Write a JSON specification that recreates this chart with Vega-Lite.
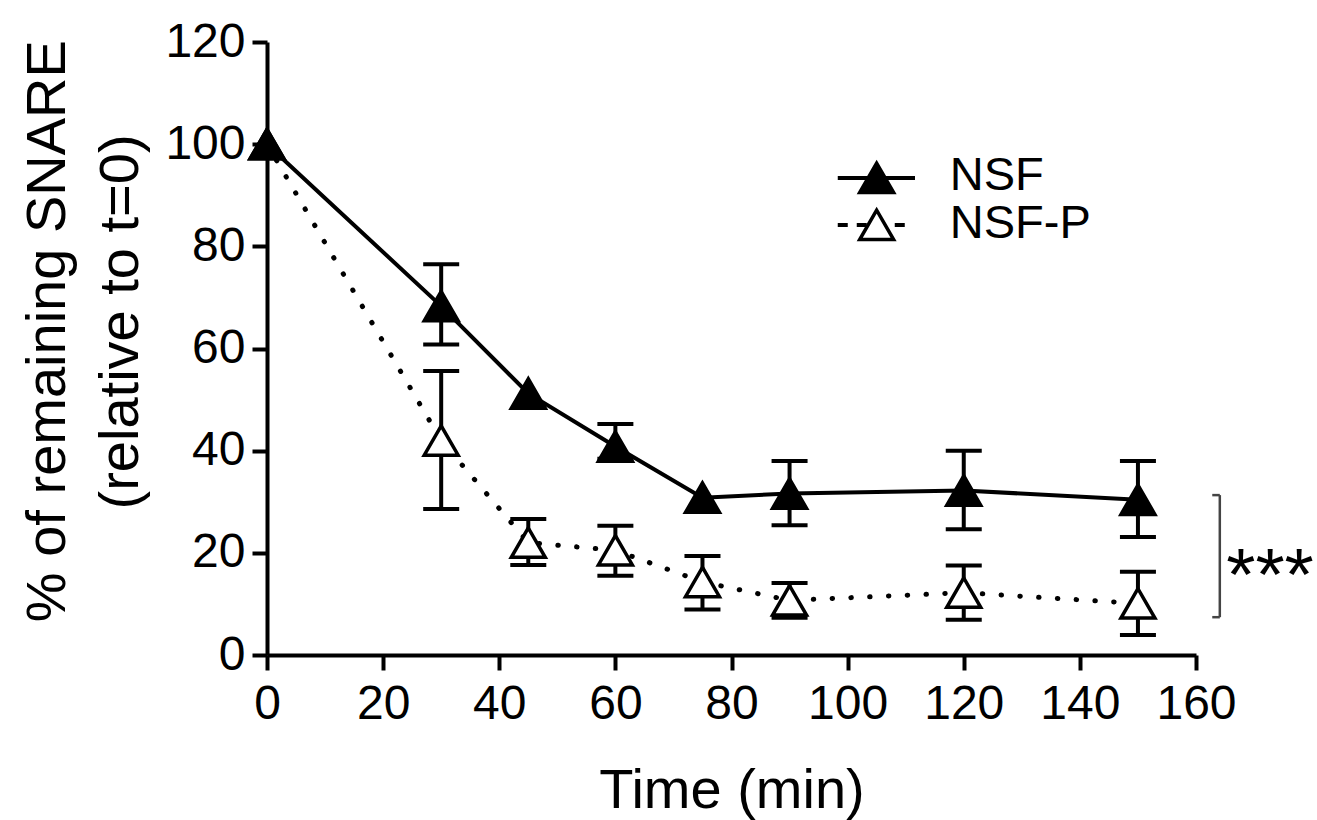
{
  "$schema": "https://vega.github.io/schema/vega-lite/v6.json",
  "autosize": {"type": "none"},
  "padding": {"left": 267, "top": 42, "right": 121, "bottom": 165},
  "width": 929,
  "height": 613,
  "background": "white",
  "config": {
    "view": {"stroke": null},
    "font": "Liberation Sans",
    "axis": {
      "domainColor": "black", "domainWidth": 4, "tickColor": "black", "tickWidth": 4,
      "tickSize": 15, "labelColor": "black", "labelFont": "Liberation Sans", "labelFontSize": 48,
      "titleFont": "Liberation Sans", "titleFontSize": 56, "titleFontWeight": "normal", "titleColor": "black",
      "grid": false
    }
  },
  "datasets": {
    "pts": [
      {"series": "NSF-P", "time": 0, "mean": 100, "lo": 100, "hi": 100},
      {"series": "NSF-P", "time": 30, "mean": 42.0, "lo": 28.6, "hi": 55.6},
      {"series": "NSF-P", "time": 45, "mean": 22.0, "lo": 17.6, "hi": 26.6},
      {"series": "NSF-P", "time": 60, "mean": 20.5, "lo": 15.5, "hi": 25.3},
      {"series": "NSF-P", "time": 75, "mean": 14.3, "lo": 8.9, "hi": 19.4},
      {"series": "NSF-P", "time": 90, "mean": 10.7, "lo": 7.3, "hi": 14.1},
      {"series": "NSF-P", "time": 120, "mean": 12.2, "lo": 6.9, "hi": 17.5},
      {"series": "NSF-P", "time": 150, "mean": 10.1, "lo": 3.9, "hi": 16.3},
      {"series": "NSF", "time": 0, "mean": 100, "lo": 100, "hi": 100},
      {"series": "NSF", "time": 30, "mean": 68.3, "lo": 60.8, "hi": 76.5},
      {"series": "NSF", "time": 45, "mean": 51.2, "lo": 51.2, "hi": 51.2},
      {"series": "NSF", "time": 60, "mean": 40.8, "lo": 38.4, "hi": 45.2},
      {"series": "NSF", "time": 75, "mean": 30.8, "lo": 30.8, "hi": 30.8},
      {"series": "NSF", "time": 90, "mean": 31.6, "lo": 25.4, "hi": 38.0},
      {"series": "NSF", "time": 120, "mean": 32.2, "lo": 24.6, "hi": 40.0},
      {"series": "NSF", "time": 150, "mean": 30.4, "lo": 23.1, "hi": 38.0}
    ],
    "legend": [
      {"series": "NSF", "x1": 98.3, "x2": 111.6, "xm": 105.0, "y": 93.4, "ly": 93.8, "tx": 117.6},
      {"series": "NSF-P", "x1": 98.3, "x2": 110.4, "xm": 105.0, "y": 84.2, "ly": 84.4, "tx": 117.6}
    ],
    "ytitle": [
      {"x": -37.7, "y": 63.4, "label": "% of remaining SNARE"},
      {"x": -25.1, "y": 65.2, "label": "(relative to t=0)"}
    ],
    "bracket": [
      {"x1": 164.1, "x2": 164.1, "y1": 7.4, "y2": 31.3},
      {"x1": 162.8, "x2": 164.1, "y1": 31.3, "y2": 31.3},
      {"x1": 162.8, "x2": 164.1, "y1": 7.4, "y2": 7.4}
    ],
    "sig": [{"x": 165.2, "y": 10.8, "label": "***"}]
  },
  "layer": [
    {
      "data": {"name": "pts"},
      "transform": [{"filter": "datum.series === 'NSF'"}],
      "mark": {"type": "line", "color": "black", "strokeWidth": 4},
      "encoding": {
        "x": {"field": "time", "type": "quantitative", "scale": {"domain": [0, 160], "nice": false},
              "axis": {"values": [0, 20, 40, 60, 80, 100, 120, 140, 160], "title": "Time (min)", "titleBaseline": "alphabetic", "titleY": 152, "labelPadding": 10, "labelFlush": false}},
        "y": {"field": "mean", "type": "quantitative", "scale": {"domain": [0, 120], "nice": false},
              "axis": {"values": [0, 20, 40, 60, 80, 100, 120], "title": null, "labelPadding": 7, "labelFlush": false}}
      }
    },
    {
      "data": {"name": "pts"},
      "transform": [{"filter": "datum.series === 'NSF-P'"}],
      "mark": {"type": "line", "color": "black", "strokeWidth": 5, "strokeDash": [0.5, 18.3], "strokeCap": "round"},
      "encoding": {
        "x": {"field": "time", "type": "quantitative"},
        "y": {"field": "mean", "type": "quantitative"}
      }
    },
    {
      "data": {"name": "pts"},
      "transform": [{"filter": "datum.hi > datum.lo"}],
      "mark": {"type": "errorbar", "color": "black", "opacity": 1, "ticks": {"size": 36, "thickness": 4, "color": "black", "opacity": 1}, "rule": {"strokeWidth": 4, "color": "black", "opacity": 1}},
      "encoding": {
        "x": {"field": "time", "type": "quantitative"},
        "y": {"field": "lo", "type": "quantitative"},
        "y2": {"field": "hi"}
      }
    },
    {
      "data": {"name": "pts"},
      "mark": {"type": "point", "shape": "triangle-up", "filled": true, "strokeWidth": 3.5, "size": 1150, "opacity": 1},
      "encoding": {
        "x": {"field": "time", "type": "quantitative"},
        "y": {"field": "mean", "type": "quantitative"},
        "fill": {"field": "series", "type": "nominal", "scale": {"domain": ["NSF", "NSF-P"], "range": ["black", "white"]}, "legend": null},
        "stroke": {"value": "black"}
      }
    },
    {
      "data": {"name": "legend"},
      "mark": {"type": "rule", "color": "black", "strokeWidth": 4},
      "encoding": {
        "x": {"field": "x1", "type": "quantitative"},
        "x2": {"field": "x2"},
        "y": {"field": "y", "type": "quantitative"},
        "strokeDash": {"field": "series", "type": "nominal", "scale": {"domain": ["NSF", "NSF-P"], "range": [[1, 0], [10, 9]]}, "legend": null}
      }
    },
    {
      "data": {"name": "legend"},
      "mark": {"type": "point", "shape": "triangle-up", "filled": true, "strokeWidth": 3.5, "size": 1150, "opacity": 1},
      "encoding": {
        "x": {"field": "xm", "type": "quantitative"},
        "y": {"field": "y", "type": "quantitative"},
        "fill": {"field": "series", "type": "nominal", "scale": {"domain": ["NSF", "NSF-P"], "range": ["black", "white"]}, "legend": null},
        "stroke": {"value": "black"}
      }
    },
    {
      "data": {"name": "legend"},
      "mark": {"type": "text", "align": "left", "baseline": "middle", "fontSize": 47, "color": "black", "font": "Liberation Sans"},
      "encoding": {
        "x": {"field": "tx", "type": "quantitative"},
        "y": {"field": "ly", "type": "quantitative"},
        "text": {"field": "series"}
      }
    },
    {
      "data": {"name": "ytitle"},
      "mark": {"type": "text", "align": "center", "baseline": "middle", "angle": 270, "fontSize": 56, "color": "black", "font": "Liberation Sans"},
      "encoding": {
        "x": {"field": "x", "type": "quantitative"},
        "y": {"field": "y", "type": "quantitative"},
        "text": {"field": "label"}
      }
    },
    {
      "data": {"name": "bracket"},
      "mark": {"type": "rule", "color": "#444444", "strokeWidth": 2.5},
      "encoding": {
        "x": {"field": "x1", "type": "quantitative"},
        "x2": {"field": "x2"},
        "y": {"field": "y1", "type": "quantitative"},
        "y2": {"field": "y2"}
      }
    },
    {
      "data": {"name": "sig"},
      "mark": {"type": "text", "align": "left", "baseline": "alphabetic", "fontSize": 75, "color": "black", "font": "Liberation Sans"},
      "encoding": {
        "x": {"field": "x", "type": "quantitative"},
        "y": {"field": "y", "type": "quantitative"},
        "text": {"field": "label"}
      }
    }
  ]
}
